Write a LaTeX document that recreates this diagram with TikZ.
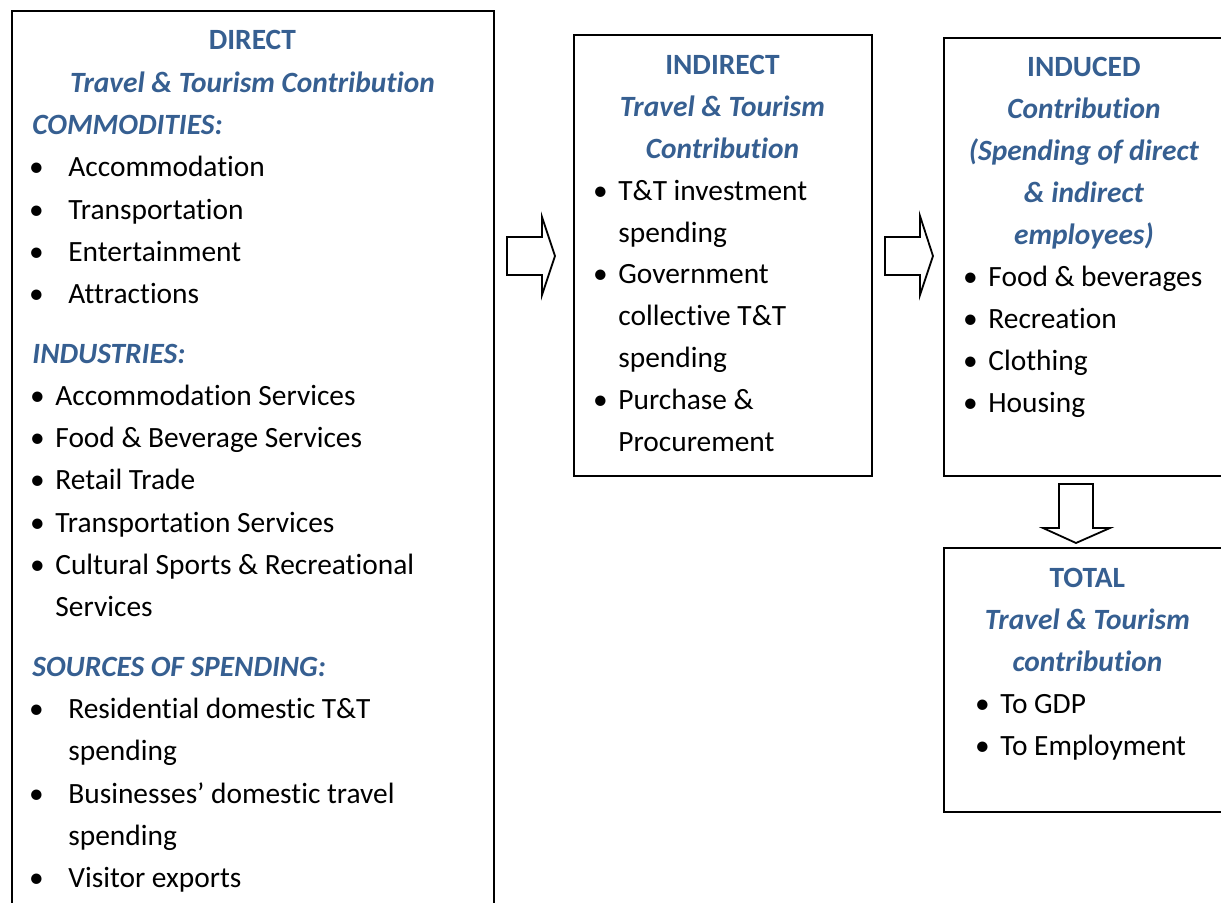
\documentclass[tikz,border=0pt]{standalone}
\usepackage{fontspec}
\setmainfont{Carlito}[Ligatures=NoCommon]
\usetikzlibrary{positioning}

\definecolor{headblue}{RGB}{54,95,145}
\newlength\pxu
\setlength\pxu{0.5pt}
\newcommand\hd[1]{\makebox[\linewidth][c]{#1}}
\newcommand\boxttl[1]{\textcolor{headblue}{\bfseries #1}}
\newcommand\subttl[1]{\textcolor{headblue}{\bfseries\itshape #1}}
\newcommand\itm[3]{\hspace*{#1\pxu}\makebox[0pt][c]{\textbullet}\hspace*{\dimexpr#2\pxu-#1\pxu\relax}#3}
\newcommand\cnt[2]{\hspace*{#1\pxu}#2}
\newcommand\boxfont[1]{\fontsize{14.7}{#1}\selectfont}
% tikz's align=left widens the spaces, put them back to the font's own
\newcommand\wordsp{\spaceskip=3.3pt plus 1pt minus 0.5pt\relax}

\tikzset{
  box/.style={draw, line width=1pt, rectangle, anchor=north west, inner sep=0pt},
  txt/.style={anchor=base west, inner sep=0pt, align=left, font=\boxfont{21pt}},
  blk/.style={draw, line width=0.9pt, fill=white, line join=miter}
}

\begin{document}
\begin{tikzpicture}[x=0.5pt, y=-0.5pt]
\clip (0,0) rectangle (1221,903);

\node[box, minimum width=241pt, minimum height=455pt] (direct) at (11,10) {};
\node[box, minimum width=149pt, minimum height=220.5pt] (indirect) at (573,34) {};
\node[box, minimum width=140.5pt, minimum height=219pt] (induced) at (943,37) {};
\node[box, minimum width=144pt, minimum height=132pt] (total) at (943,547) {};

\node[txt, text width=241pt, font=\boxfont{21.15pt}] (directtxt) at ([yshift=-20pt]direct.north west) {\wordsp
\hd{\boxttl{DIRECT}}\\
\hd{\subttl{Travel \& Tourism Contribution}}\\
\cnt{21}{\subttl{COMMODITIES:}}\\
\itm{25}{57}{Accommodation}\\
\itm{25}{57}{Transportation}\\
\itm{25}{57}{Entertainment}\\
\itm{25}{57}{Attractions}\\[8.5pt]
\cnt{21}{\subttl{INDUSTRIES:}}\\
\itm{26}{44}{Accommodation Services}\\
\itm{26}{44}{Food \& Beverage Services}\\
\itm{26}{44}{Retail Trade}\\
\itm{26}{44}{Transportation Services}\\
\itm{26}{44}{Cultural Sports \& Recreational}\\
\cnt{44}{Services}\\[8.5pt]
\cnt{21}{\subttl{SOURCES OF SPENDING:}}\\
\itm{25}{57}{Residential domestic T\&T}\\
\cnt{57}{spending}\\
\itm{25}{57}{Businesses’ domestic travel}\\
\cnt{57}{spending}\\
\itm{25}{57}{Visitor exports}};

\node[txt, text width=149pt, font=\boxfont{20.9pt}] (indirecttxt) at ([yshift=-20.5pt]indirect.north west) {\wordsp
\hd{\boxttl{INDIRECT}}\\
\hd{\subttl{Travel \& Tourism}}\\
\hd{\subttl{Contribution}}\\
\itm{27}{45}{T\&T investment}\\
\cnt{45}{spending}\\
\itm{27}{45}{Government}\\
\cnt{45}{collective T\&T}\\
\cnt{45}{spending}\\
\itm{27}{45}{Purchase \&}\\
\cnt{45}{Procurement}};

\node[txt, text width=140.5pt] (inducedtxt) at ([yshift=-19.75pt]induced.north west) {\wordsp
\hd{\boxttl{INDUCED}}\\
\hd{\subttl{Contribution}}\\
\hd{\subttl{(Spending of direct}}\\
\hd{\subttl{\& indirect}}\\
\hd{\subttl{employees)}}\\
\itm{27}{45}{Food \& beverages}\\
\itm{27}{45}{Recreation}\\
\itm{27}{45}{Clothing}\\
\itm{27}{45}{Housing}};

\node[txt, text width=144pt, font=\boxfont{21.1pt}] (totaltxt) at ([yshift=-20pt]total.north west) {\wordsp
\hd{\boxttl{TOTAL}}\\
\hd{\subttl{Travel \& Tourism}}\\
\hd{\subttl{contribution}}\\
\itm{39}{57}{To GDP}\\
\itm{39}{57}{To Employment}};

\draw[blk] (507,237) -- (542,237) -- (542,217) -- (555,256) -- (542,295) -- (542,275) -- (507,275) -- cycle;
\draw[blk] (885,237) -- (920,237) -- (920,216) -- (933,256) -- (920,295) -- (920,275) -- (885,275) -- cycle;
\draw[blk] (1059,484) -- (1093,484) -- (1093,528) -- (1110,528) -- (1076,543) -- (1043,528) -- (1059,528) -- cycle;
\end{tikzpicture}
\end{document}
